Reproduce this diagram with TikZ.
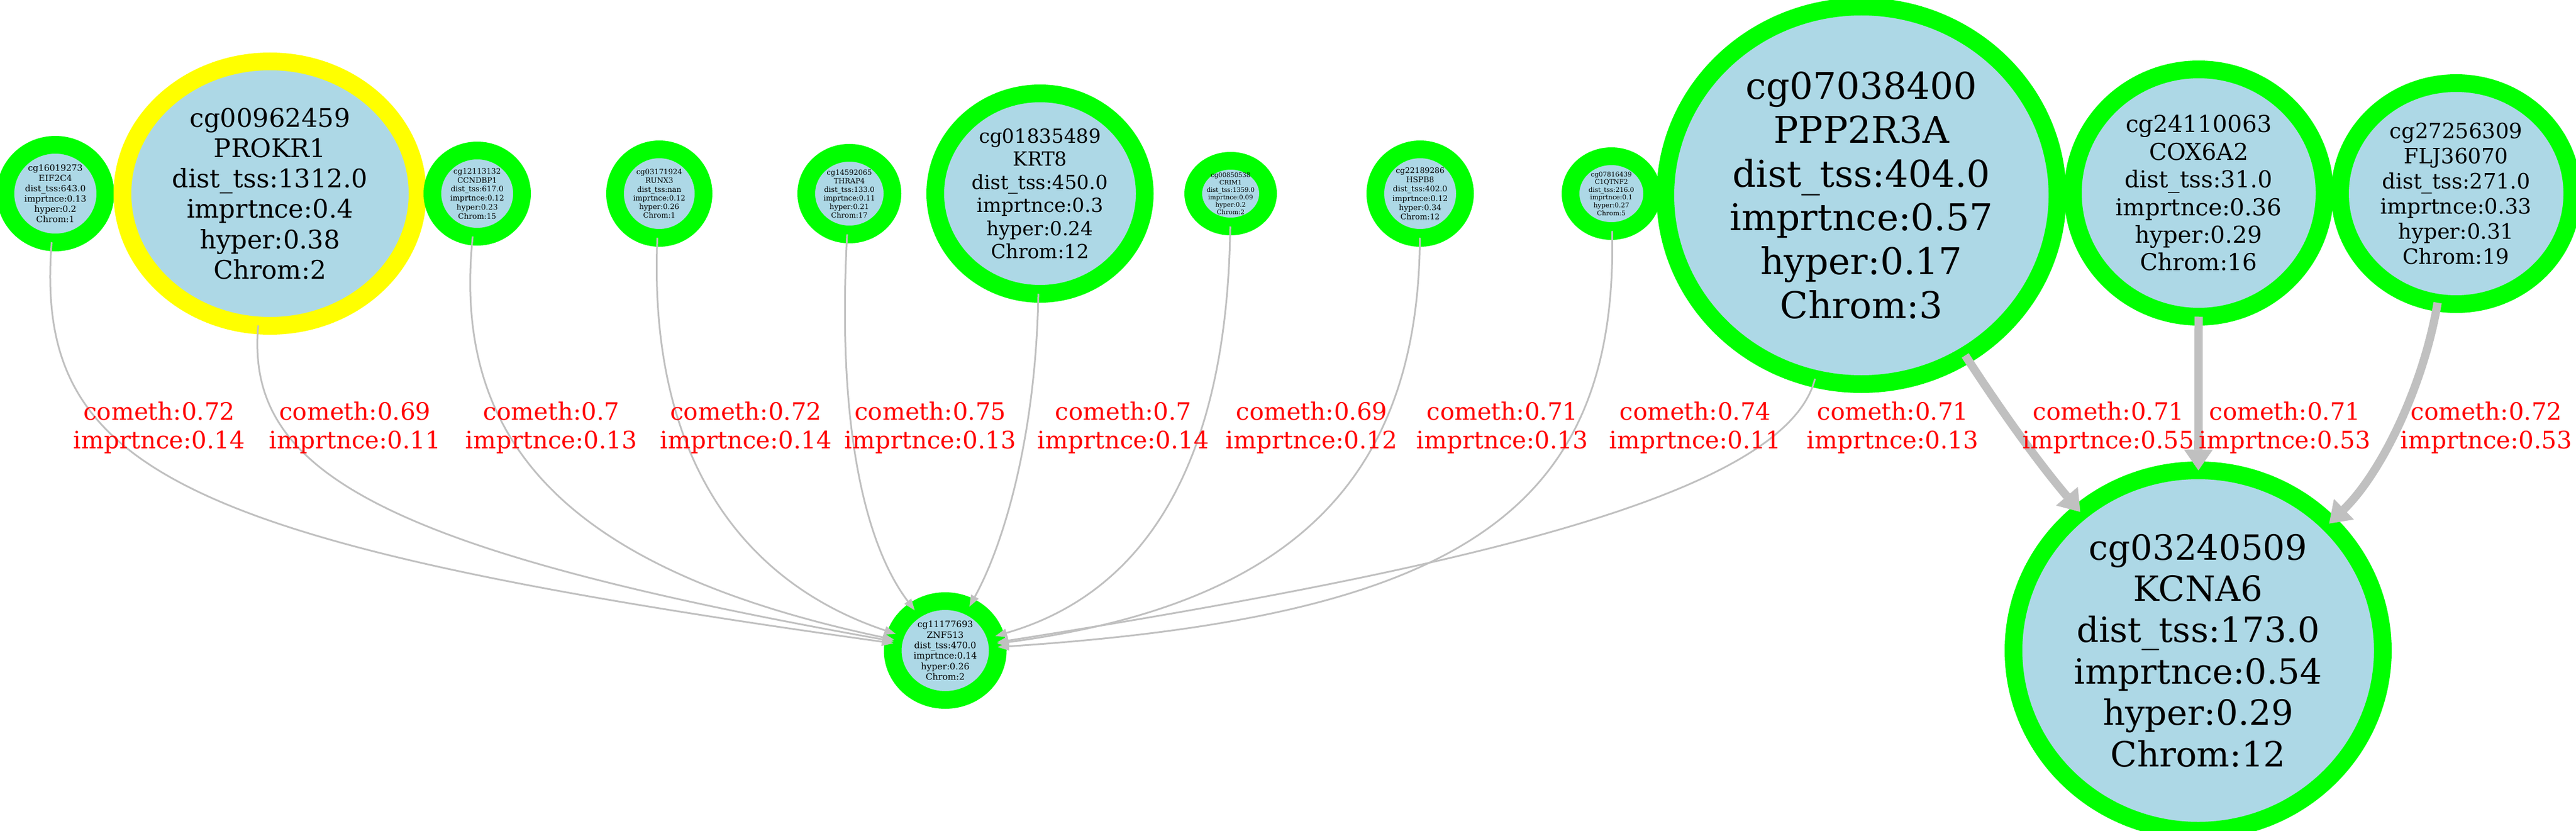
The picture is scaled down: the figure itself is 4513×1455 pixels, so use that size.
\documentclass[tikz,border=0pt]{standalone}
\usepackage{fontspec}
\setmainfont{DejaVu Serif}
\usetikzlibrary{shapes.geometric,arrows.meta}
\newcommand\fsz[2]{\fontsize{#1pt}{#2pt}\selectfont}
\definecolor{ringgreen}{RGB}{0,255,0}
\definecolor{ringyellow}{RGB}{255,255,0}
\definecolor{lblue}{RGB}{173,216,230}
\definecolor{edgegray}{RGB}{192,192,192}
\definecolor{lblred}{RGB}{255,0,0}
\tikzset{
  ring/.style={ellipse, draw=ringgreen, fill=lblue, line width=31pt, inner sep=0pt, outer sep=0pt},
  yring/.style={ring, draw=ringyellow},
  ntext/.style={align=center, inner sep=0pt, text=black},
  lbl/.style={align=center, inner sep=0pt, text=lblred, font=\fsz{42}{50}},
  thinedge/.style={draw=edgegray, line width=3pt, -{Triangle[length=20pt,width=15pt,line width=0.5pt]}},
  thickedge/.style={draw=edgegray, line width=14.5pt, -{Triangle[length=36pt,width=50pt,line width=0.5pt]}},
}
\begin{document}
\begin{tikzpicture}[x=1pt,y=-1pt]
\fill[white] (0,0) rectangle (4513,1455);
\useasboundingbox (0,0) rectangle (4513,1455);

% nodes
\node[ring, minimum width=175pt, minimum height=171pt] (n1) at (97,339) {};
\node[yring, minimum width=517pt, minimum height=463pt] (n2) at (473,339) {};
\node[ring, minimum width=157pt, minimum height=151pt] (n3) at (836,339) {};
\node[ring, minimum width=155pt, minimum height=155pt] (n4) at (1155,339) {};
\node[ring, minimum width=151pt, minimum height=143pt] (n5) at (1488,339) {};
\node[ring, minimum width=367pt, minimum height=351pt] (n6) at (1822,339) {};
\node[ring, minimum width=131pt, minimum height=115pt] (n7) at (2156,339) {};
\node[ring, minimum width=157pt, minimum height=155pt] (n8) at (2488,339) {};
\node[ring, minimum width=143pt, minimum height=131pt] (n9) at (2823,339) {};
\node[ring, minimum width=687pt, minimum height=661pt] (n10) at (3261,342) {};
\node[ring, minimum width=441pt, minimum height=433pt] (n11) at (3852,338) {};
\node[ring, minimum width=407pt, minimum height=387pt] (n12) at (4303,339) {};
\node[ring, minimum width=184pt, minimum height=173pt] (n13) at (1656,1139) {};
\node[ring, minimum width=647pt, minimum height=631pt] (n14) at (3851,1139) {};

% node texts
\node[ntext, font=\fsz{15.2}{18.1}] (t1) at (n1) {cg16019273\\EIF2C4\\dist\_tss:643.0\\imprtnce:0.13\\hyper:0.2\\Chrom:1};
\node[ntext, font=\fsz{44.8}{53.3}] (t2) at (n2) {cg00962459\\PROKR1\\dist\_tss:1312.0\\imprtnce:0.4\\hyper:0.38\\Chrom:2};
\node[ntext, font=\fsz{13.2}{15.7}] (t3) at (n3) {cg12113132\\CCNDBP1\\dist\_tss:617.0\\imprtnce:0.12\\hyper:0.23\\Chrom:15};
\node[ntext, font=\fsz{12.8}{15.2}] (t4) at (n4) {cg03171924\\RUNX3\\dist\_tss:nan\\imprtnce:0.12\\hyper:0.26\\Chrom:1};
\node[ntext, font=\fsz{12.6}{15.0}] (t5) at (n5) {cg14592065\\THRAP4\\dist\_tss:133.0\\imprtnce:0.11\\hyper:0.21\\Chrom:17};
\node[ntext, font=\fsz{34}{40.5}] (t6) at (n6) {cg01835489\\KRT8\\dist\_tss:450.0\\imprtnce:0.3\\hyper:0.24\\Chrom:12};
\node[ntext, font=\fsz{11}{13.1}] (t7) at (n7) {cg00850538\\CRIM1\\dist\_tss:1359.0\\imprtnce:0.09\\hyper:0.2\\Chrom:2};
\node[ntext, font=\fsz{13.6}{16.2}] (t8) at (n8) {cg22189286\\HSPB8\\dist\_tss:402.0\\imprtnce:0.12\\hyper:0.34\\Chrom:12};
\node[ntext, font=\fsz{11.4}{13.6}] (t9) at (n9) {cg07816439\\C1QTNF2\\dist\_tss:216.0\\imprtnce:0.1\\hyper:0.27\\Chrom:5};
\node[ntext, font=\fsz{64.5}{76.8}] (t10) at (n10) {cg07038400\\PPP2R3A\\dist\_tss:404.0\\imprtnce:0.57\\hyper:0.17\\Chrom:3};
\node[ntext, font=\fsz{40.7}{48.4}] (t11) at (n11) {cg24110063\\COX6A2\\dist\_tss:31.0\\imprtnce:0.36\\hyper:0.29\\Chrom:16};
\node[ntext, font=\fsz{37}{44}] (t12) at (n12) {cg27256309\\FLJ36070\\dist\_tss:271.0\\imprtnce:0.33\\hyper:0.31\\Chrom:19};
\node[ntext, font=\fsz{15.5}{18.4}] (t13) at (n13) {cg11177693\\ZNF513\\dist\_tss:470.0\\imprtnce:0.14\\hyper:0.26\\Chrom:2};
\node[ntext, font=\fsz{60.8}{72.4}] (t14) at (n14) {cg03240509\\KCNA6\\dist\_tss:173.0\\imprtnce:0.54\\hyper:0.29\\Chrom:12};

% thin edges into ZNF513
\draw[thinedge] (n1) .. controls (60,820) and (300,950) .. (n13);
\draw[thinedge] (n2) .. controls (430,820) and (650,960) .. (n13);
\draw[thinedge] (n3) .. controls (790,780) and (1000,1000) .. (n13);
\draw[thinedge] (n4) .. controls (1135,800) and (1300,1020) .. (n13);
\draw[thinedge] (n5) .. controls (1465,760) and (1520,960) .. (n13);
\draw[thinedge] (n6) .. controls (1815,760) and (1760,950) .. (n13);
\draw[thinedge] (n7) .. controls (2150,820) and (2000,1040) .. (n13);
\draw[thinedge] (n8) .. controls (2485,850) and (2250,1060) .. (n13);
\draw[thinedge] (n9) .. controls (2835,900) and (2550,1080) .. (n13);
\draw[thinedge] (n10) .. controls (3130,860) and (2600,990) .. (n13);

% thick edges into KCNA6
\draw[thickedge] (n10) .. controls (3505,718) and (3571,810) .. (n14);
\draw[thickedge] (n11) -- (n14);
\draw[thickedge] (n12) .. controls (4245,680) and (4170,830) .. (n14);

% edge labels
\node[lbl] (l1) at (279,749) {cometh:0.72\\imprtnce:0.14};
\node[lbl] (l2) at (622,749) {cometh:0.69\\imprtnce:0.11};
\node[lbl] (l3) at (966,749) {cometh:0.7\\imprtnce:0.13};
\node[lbl] (l4) at (1307,749) {cometh:0.72\\imprtnce:0.14};
\node[lbl] (l5) at (1630,749) {cometh:0.75\\imprtnce:0.13};
\node[lbl] (l6) at (1968,749) {cometh:0.7\\imprtnce:0.14};
\node[lbl] (l7) at (2298,749) {cometh:0.69\\imprtnce:0.12};
\node[lbl] (l8) at (2632,749) {cometh:0.71\\imprtnce:0.13};
\node[lbl] (l9) at (2970,749) {cometh:0.74\\imprtnce:0.11};
\node[lbl] (l10) at (3316,749) {cometh:0.71\\imprtnce:0.13};
\node[lbl] (l11) at (3694,749) {cometh:0.71\\imprtnce:0.55};
\node[lbl] (l12) at (4003,749) {cometh:0.71\\imprtnce:0.53};
\node[lbl] (l13) at (4356,749) {cometh:0.72\\imprtnce:0.53};
\end{tikzpicture}
\end{document}
